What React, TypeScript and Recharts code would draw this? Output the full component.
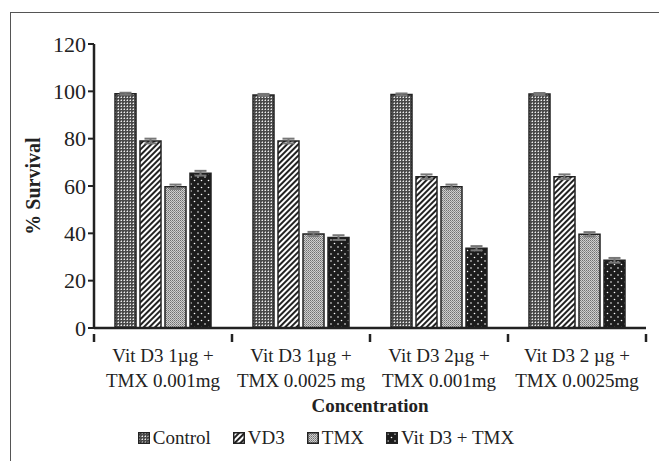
import React from "react";
import { BarChart, Bar, XAxis, YAxis, ErrorBar, Legend } from "recharts";

const categories = [
  ["Vit D3 1µg +", "TMX 0.001mg"],
  ["Vit D3 1µg +", "TMX 0.0025 mg"],
  ["Vit D3 2µg +", "TMX 0.001mg"],
  ["Vit D3 2 µg +", "TMX 0.0025mg"],
];
const control = [99, 98.5, 98.7, 98.9];
const vd3 = [79, 79, 63.9, 63.9];
const tmx = [59.7, 39.7, 59.7, 39.6];
const combo = [65.4, 38.2, 33.7, 28.6];
const controlErr = [0.4, 0.4, 0.4, 0.4];
const vd3Err = [1, 1, 1, 1];
const tmxErr = [0.9, 0.9, 0.9, 0.9];
const comboErr = [1, 1, 0.9, 1];
const yTicks = [0, 20, 40, 60, 80, 100, 120];
const seriesNames = ["Control", "VD3", "TMX", "Vit D3 + TMX"];
const patternIds = ["pControl", "pVD3", "pTMX", "pCombo"];

const data = categories.map((c, i) => ({
  name: c.join("\n"),
  control: control[i],
  vd3: vd3[i],
  tmx: tmx[i],
  combo: combo[i],
  controlErr: controlErr[i],
  vd3Err: vd3Err[i],
  tmxErr: tmxErr[i],
  comboErr: comboErr[i],
}));

const FONT = "'Liberation Serif', 'Times New Roman', serif";
const W = 659;
const H = 461;
const M = { top: 44, right: 13, left: 34, bottom: 5 };
const Y_W = 60;
const BAND = (W - M.left - Y_W - M.right) / categories.length;

const Patterns = () => (
  <defs>
    <pattern id="pControl" width="3" height="3" patternUnits="userSpaceOnUse">
      <rect width="3" height="3" fill="#4a4a4a" />
      <rect x="1" y="1" width="1" height="1" fill="#eee" />
      <rect x="0" y="1" width="1" height="1" fill="#999" />
      <rect x="1" y="0" width="1" height="1" fill="#999" />
    </pattern>
    <pattern id="pVD3" width="4" height="4" patternUnits="userSpaceOnUse" patternTransform="rotate(45)">
      <rect width="4" height="4" fill="#fff" />
      <rect width="2" height="4" fill="#222" />
    </pattern>
    <pattern id="pTMX" width="2" height="2" patternUnits="userSpaceOnUse">
      <rect width="2" height="2" fill="#cfcfcf" />
      <rect x="0" y="0" width="1" height="1" fill="#707070" />
      <rect x="1" y="1" width="1" height="1" fill="#909090" />
    </pattern>
    <pattern id="pCombo" width="7" height="7" patternUnits="userSpaceOnUse">
      <rect width="7" height="7" fill="#1c1c1c" />
      <circle cx="2" cy="2" r="0.8" fill="#fff" />
      <circle cx="5.5" cy="5.5" r="0.8" fill="#fff" />
    </pattern>
  </defs>
);

const XTick = (props: any) => {
  const { x, y, payload, index } = props;
  const lines = String(payload.value).split("\n");
  const last = index === categories.length - 1;
  return (
    <g>
      <line x1={x - BAND / 2} x2={x - BAND / 2} y1={y - 2} y2={y + 6} stroke="#222" strokeWidth={2.5} />
      {last && (
        <line x1={x + BAND / 2} x2={x + BAND / 2} y1={y - 2} y2={y + 6} stroke="#222" strokeWidth={2.5} />
      )}
      <text x={x} y={y} textAnchor="middle" fontFamily={FONT} fontSize={19} fill="#222">
        <tspan x={x} dy={26}>{lines[0]}</tspan>
        <tspan x={x} dy={25}>{lines[1]}</tspan>
      </text>
    </g>
  );
};

const LegendContent = () => (
  <div
    style={{
      height: 33,
      display: "flex",
      justifyContent: "center",
      alignItems: "center",
      fontFamily: FONT,
      fontSize: 19,
      color: "#222",
      gap: 22,
      paddingRight: 28,
      paddingBottom: 4,
      boxSizing: "border-box",
    }}
  >
    {seriesNames.map((n, i) => (
      <div key={n} style={{ display: "flex", alignItems: "center" }}>
        <svg width={12} height={12} style={{ marginRight: 3 }}>
          <rect x={0.75} y={0.75} width={10.5} height={10.5} fill={`url(#${patternIds[i]})`} stroke="#222" strokeWidth={1.5} />
        </svg>
        <span>{n}</span>
      </div>
    ))}
  </div>
);

export default function App() {
  return (
    <div style={{ position: "absolute", left: 0, top: 0, width: W, height: H, background: "#fff" }}>
      <div
        style={{
          position: "absolute",
          left: 10,
          top: 12,
          right: 0,
          bottom: 0,
          borderLeft: "1px solid #555",
          borderTop: "1px solid #555",
        }}
      />
      <BarChart width={W} height={H} data={data} margin={M} barSize={21} barGap={4}>
        <Patterns />
        <XAxis
          dataKey="name"
          height={95}
          tickLine={false}
          tick={<XTick />}
          interval={0}
          axisLine={{ stroke: "#222", strokeWidth: 2.5 }}
          label={{
            value: "Concentration",
            position: "insideBottom",
            offset: 11,
            style: { fontFamily: FONT, fontSize: 19, fontWeight: "bold", fill: "#222" },
          }}
        />
        <YAxis
          width={Y_W}
          domain={[0, 120]}
          ticks={yTicks}
          interval={0}
          tickSize={6}
          tickLine={{ stroke: "#222", strokeWidth: 2 }}
          axisLine={{ stroke: "#222", strokeWidth: 2.5 }}
          tick={{ fontFamily: FONT, fontSize: 22, fill: "#222" }}
          label={{
            content: () => (
              <text
                x={33}
                y={186}
                transform="rotate(-90, 33, 186)"
                textAnchor="middle"
                dominantBaseline="central"
                fontFamily={FONT}
                fontSize={20}
                fontWeight="bold"
                fill="#222"
              >
                % Survival
              </text>
            ),
          }}
        />
        <Legend verticalAlign="bottom" content={<LegendContent />} />
        <Bar dataKey="control" name="Control" fill="url(#pControl)" stroke="#222" strokeWidth={1.5} isAnimationActive={false}>
          <ErrorBar dataKey="controlErr" width={6} stroke="#777" strokeWidth={2} direction="y" />
        </Bar>
        <Bar dataKey="vd3" name="VD3" fill="url(#pVD3)" stroke="#222" strokeWidth={1.5} isAnimationActive={false}>
          <ErrorBar dataKey="vd3Err" width={6} stroke="#777" strokeWidth={2} direction="y" />
        </Bar>
        <Bar dataKey="tmx" name="TMX" fill="url(#pTMX)" stroke="#222" strokeWidth={1.5} isAnimationActive={false}>
          <ErrorBar dataKey="tmxErr" width={6} stroke="#777" strokeWidth={2} direction="y" />
        </Bar>
        <Bar dataKey="combo" name="Vit D3 + TMX" fill="url(#pCombo)" stroke="#222" strokeWidth={1.5} isAnimationActive={false}>
          <ErrorBar dataKey="comboErr" width={6} stroke="#777" strokeWidth={2} direction="y" />
        </Bar>
      </BarChart>
    </div>
  );
}
